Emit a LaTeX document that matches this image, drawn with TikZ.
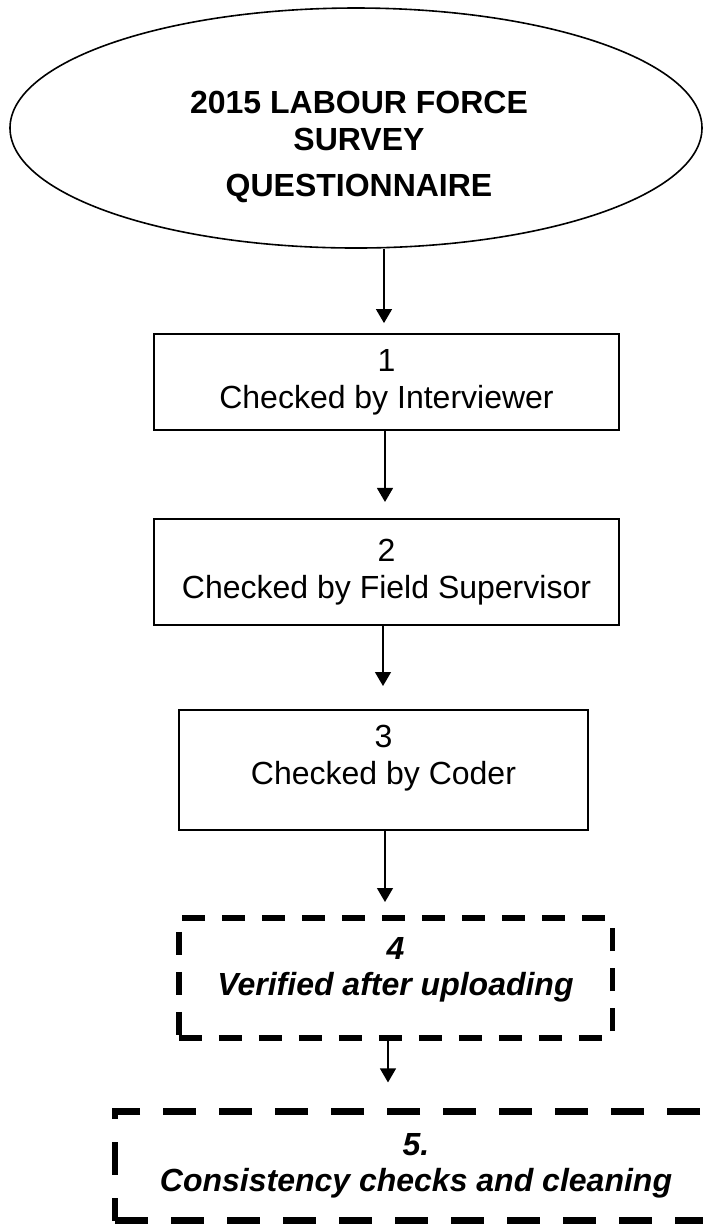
\documentclass[tikz,border=0pt]{standalone}
\usepackage{fontspec}
\setmainfont{Liberation Sans}
\usetikzlibrary{shapes.geometric,arrows.meta}

\tikzset{etape/.style 2 args = {draw, rectangle, line width=0.6pt, outer sep=0pt,
                                minimum width=#1, minimum height=#2,
                                align=center, font=\fontsize{12}{13.8}\selectfont},
         verif/.style 2 args = {etape={#1}{#2}, line width=1.9pt,
                                dash pattern=on 8.6pt off 6.4pt,
                                font=\fontsize{12}{13.5}\selectfont\bfseries\itshape},
         nettoyage/.style = {verif={#1}{40.9pt}, line width=2.6pt,
                             dash pattern=on 12.4pt off 8.6pt},
         fleche/.style = {-{Triangle[length=5.25pt,width=6pt]}, line width=0.5pt},
         titre/.style = {align=center, font=\fontsize{12}{13.8}\selectfont\bfseries}
        }

\begin{document}
\begin{tikzpicture}[x=0.375pt, y=-0.375pt]
  \useasboundingbox (0,0) rectangle (702,1224);
  \node[ellipse, draw, line width=0.6pt, minimum width=259.5pt, minimum height=90pt]
       (enquete) at (356,128) {};
  \node[titre] (titre) at (359,147) {2015 LABOUR FORCE\\ SURVEY\\[3.4pt] QUESTIONNAIRE};
  \node[etape={174.4pt}{36pt}] (interv) at (386.5,382) {1\\ Checked by Interviewer};
  \node[etape={174.4pt}{39.75pt}] (superv) at (386.5,572) {2\\ Checked by Field Supervisor};
  \node[etape={153.4pt}{45pt}, text depth=11.5pt] (codeur) at (383.5,770) {3\\ Checked by Coder};
  \node[verif={162.4pt}{45pt}, text depth=8.5pt] (upload) at (395.5,978) {4\\ Verified after uploading};
  \node[nettoyage=225.75pt] (coherence) at (416,1166) {5.\\ Consistency checks and cleaning};

  \draw[fleche, shorten >=4.1pt] (enquete.south -| 384,0) -- (interv.north -| 384,0);
  \draw[fleche, shorten >=6.4pt] (interv.south -| 385,0) -- (superv.north -| 385,0);
  \draw[fleche, shorten >=9pt]   (superv.south -| 383,0) -- (codeur.north -| 383,0);
  \draw[fleche, shorten >=6pt]   (codeur.south -| 385,0) -- (upload.north -| 385,0);
  \draw[fleche, shorten >=10.9pt] (upload.south -| 388,0) -- (coherence.north -| 388,0);
\end{tikzpicture}
\end{document}
